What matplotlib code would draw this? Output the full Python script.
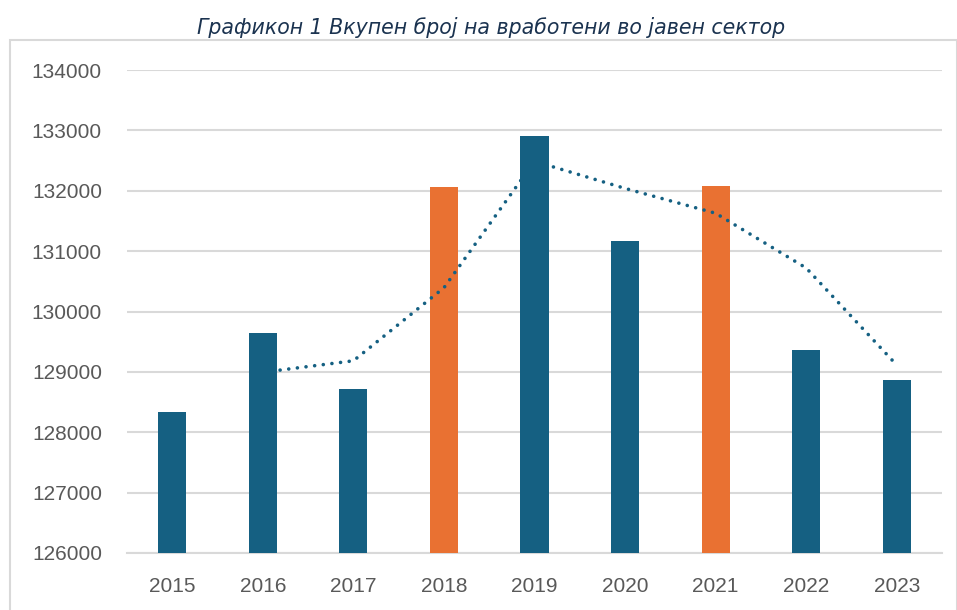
import matplotlib
matplotlib.use("Agg")
import matplotlib.pyplot as plt
import numpy as np
import pandas as pd
from matplotlib.patches import Rectangle

years = ["2015", "2016", "2017", "2018", "2019", "2020", "2021", "2022", "2023"]
employees = [128337, 129650, 128717, 132070, 132906, 131172, 132083, 129359, 128868]
highlight_years = ["2018", "2021"]
y_ticks = [126000, 127000, 128000, 129000, 130000, 131000, 132000, 133000, 134000]
title = "Графикон 1 Вкупен број на вработени во јавен сектор"

BLUE = "#156082"
ORANGE = "#E97132"
GRID = "#D9D9D9"
TXT = "#595959"

# Excel "2 per. Mov. Avg." trendline
moving_avg = pd.Series(employees, dtype=float).rolling(2).mean()

W, H = 957, 610
fig = plt.figure(figsize=(W / 100, H / 100), dpi=100)
fig.patch.set_facecolor("white")

# outer chart frame
fig.patches.append(Rectangle((10 / W, -0.05), (W - 10.5) / W, 1 - 40 / H + 0.05,
                             transform=fig.transFigure, fill=False,
                             edgecolor=GRID, linewidth=1.5, zorder=0))

ax = fig.add_axes([127 / W, 1 - 553 / H, (942 - 127) / W, (553 - 70) / H])
x = np.arange(len(years))
colors = [ORANGE if yv in highlight_years else BLUE for yv in years]
ax.bar(x, [v - y_ticks[0] for v in employees], bottom=y_ticks[0], width=0.31,
       color=colors, zorder=3)
ax.plot(x, moving_avg, color=BLUE, linewidth=2.6, linestyle=(0, (0.01, 2.4)),
        dash_capstyle="round", zorder=4)

ax.set_ylim(y_ticks[0], y_ticks[-1])
ax.set_xlim(-0.5, len(years) - 0.5)
ax.set_yticks(y_ticks)
ax.set_yticklabels([str(t) for t in y_ticks])
ax.set_xticks(x)
ax.set_xticklabels(years)
ax.yaxis.grid(True, color=GRID, linewidth=1.5, zorder=0)
ax.set_axisbelow(True)
for s in ["top", "right", "left"]:
    ax.spines[s].set_visible(False)
ax.spines["bottom"].set_color(GRID)
ax.spines["bottom"].set_linewidth(1.5)
ax.tick_params(axis="both", length=0, labelsize=15, labelcolor=TXT)
ax.tick_params(axis="y", pad=18)
ax.tick_params(axis="x", pad=17)
for lab in ax.get_xticklabels() + ax.get_yticklabels():
    lab.set_fontfamily("Liberation Sans")

fig.text(491.5 / W, 1 - 27 / H, title, ha="center", va="center",
         fontsize=14.8, style="italic", color="#1B3350", family="DejaVu Sans")

fig.savefig("out.png", dpi=100, facecolor="white")
